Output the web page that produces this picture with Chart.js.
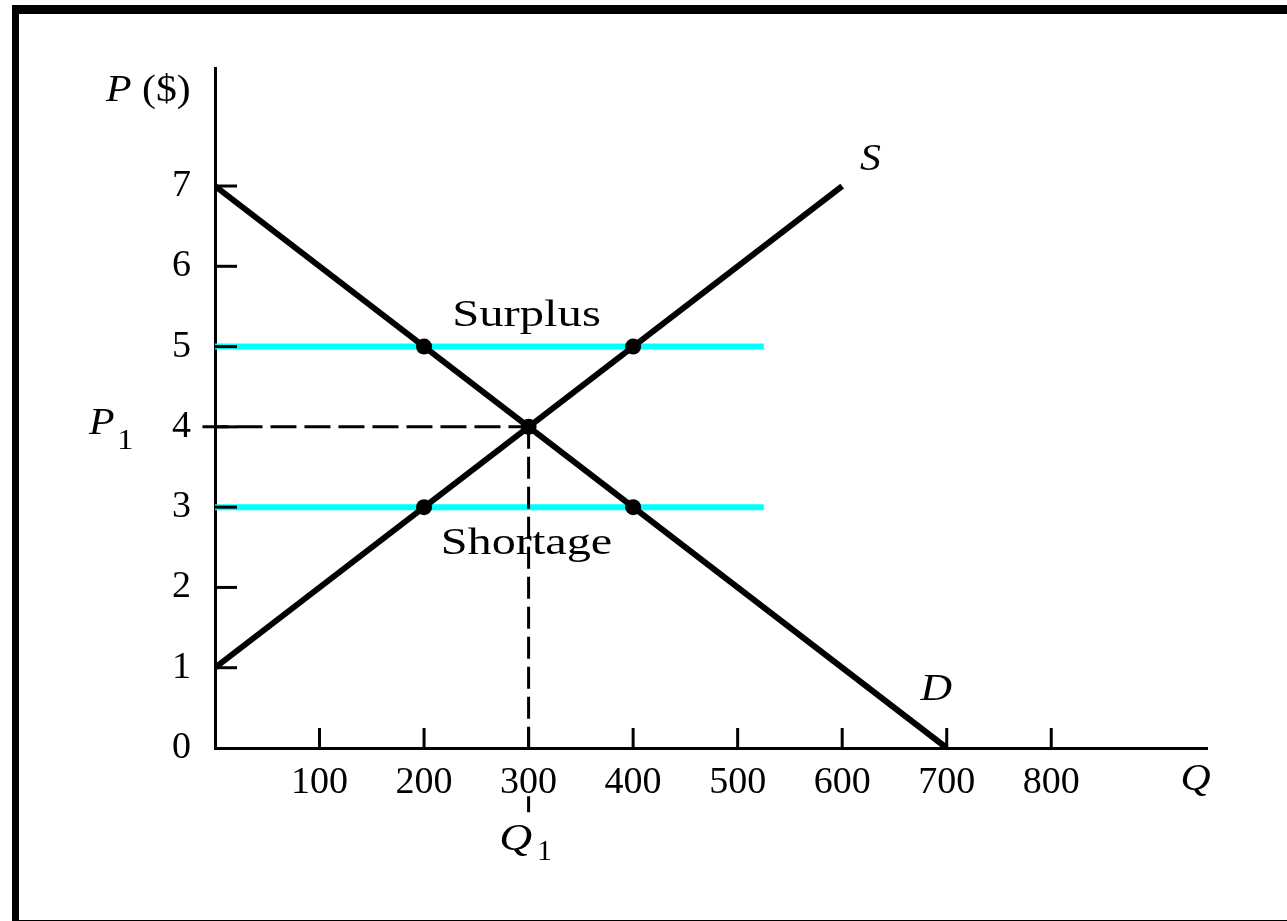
<!DOCTYPE html>
<html>
<head>
<meta charset="utf-8">
<script src="https://cdn.jsdelivr.net/npm/chart.js@4.4.1/dist/chart.umd.min.js"></script>
<style>
  html, body { margin: 0; padding: 0; background: #fff; overflow: hidden; }
  #marco { position: absolute; left: 12px; top: 5px; width: 1400px; height: 920px;
           border-left: 7px solid #000; border-top: 9px solid #000; border-bottom: 5px solid #000; box-sizing: border-box; }
  #wrap { position: absolute; left: 0; top: 0; width: 1287px; height: 921px; }
</style>
</head>
<body>
<div id="marco"></div>
<div id="wrap"><canvas id="grafico" width="1287" height="921"></canvas></div>
<script>
// datos de la grafica (oferta y demanda)
const cantidadTicks = [100, 200, 300, 400, 500, 600, 700, 800];
const precioTicks = [0, 1, 2, 3, 4, 5, 6, 7];
const oferta = [{ x: 0, y: 1 }, { x: 600, y: 7 }];
const demanda = [{ x: 0, y: 7 }, { x: 700, y: 0 }];
const excedente = [{ x: 0, y: 5 }, { x: 525, y: 5 }];
const escasez = [{ x: 0, y: 3 }, { x: 525, y: 3 }];
const equilibrioH = [{ x: -12, y: 4 }, { x: 300, y: 4 }];
// linea vertical de Q1, con hueco donde va la etiqueta 300
const equilibrioV = [{ x: 300, y: 4 }, { x: 300, y: -0.1 }, { x: 300, y: null }, { x: 300, y: -0.6 }, { x: 300, y: -0.8 }];
const puntos = [{ x: 200, y: 5 }, { x: 400, y: 5 }, { x: 300, y: 4 }, { x: 200, y: 3 }, { x: 400, y: 3 }];

const FUENTE = '"Liberation Serif", "Times New Roman", serif';

// texto un poco estirado en horizontal, como en la imagen original
function textoAncho(ctx, txt, x, y, sx) {
  ctx.save();
  ctx.translate(x, y);
  ctx.scale(sx, 1);
  ctx.fillText(txt, 0, 0);
  ctx.restore();
}

// ticks hacia adentro y etiquetas del dibujo
const etiquetas = {
  id: 'etiquetas',
  afterDraw(chart) {
    const { ctx, scales: { x, y } } = chart;
    ctx.save();
    ctx.strokeStyle = '#000';
    ctx.lineWidth = 3;
    cantidadTicks.forEach(v => {
      const px = x.getPixelForValue(v);
      ctx.beginPath();
      ctx.moveTo(px, y.bottom);
      ctx.lineTo(px, y.bottom - 20);
      ctx.stroke();
    });
    precioTicks.forEach(v => {
      if (v === 0) return;
      const py = y.getPixelForValue(v);
      ctx.beginPath();
      ctx.moveTo(x.left, py);
      ctx.lineTo(x.left + 22, py);
      ctx.stroke();
    });

    ctx.fillStyle = '#000';
    ctx.textBaseline = 'middle';
    const it = 'italic 38px ' + FUENTE;
    const rm = '38px ' + FUENTE;
    const sub = '30px ' + FUENTE;

    // P ($)
    ctx.textAlign = 'left';
    ctx.font = it;
    textoAncho(ctx, 'P', 106, y.getPixelForValue(8.18), 1.1);
    ctx.font = rm;
    textoAncho(ctx, '($)', 142, y.getPixelForValue(8.18), 1.1);

    // P1
    ctx.font = it;
    textoAncho(ctx, 'P', 89, y.getPixelForValue(4.04), 1.1);
    ctx.font = sub;
    textoAncho(ctx, '1', 117, y.getPixelForValue(3.82), 1.1);

    // S, D y Q
    ctx.font = it;
    ctx.textAlign = 'center';
    textoAncho(ctx, 'S', x.getPixelForValue(627), y.getPixelForValue(7.33), 1.1);
    textoAncho(ctx, 'D', x.getPixelForValue(690), y.getPixelForValue(0.72), 1.15);
    textoAncho(ctx, 'Q', x.getPixelForValue(938), y.getPixelForValue(-0.4), 1.1);

    // Q1
    ctx.textAlign = 'left';
    textoAncho(ctx, 'Q', x.getPixelForValue(272), y.getPixelForValue(-1.14), 1.2);
    ctx.font = sub;
    textoAncho(ctx, '1', x.getPixelForValue(308), y.getPixelForValue(-1.3), 1.0);

    // Surplus / Shortage
    ctx.font = rm;
    ctx.textAlign = 'center';
    textoAncho(ctx, 'Surplus', x.getPixelForValue(298), y.getPixelForValue(5.38), 1.28);
    textoAncho(ctx, 'Shortage', x.getPixelForValue(298), y.getPixelForValue(2.54), 1.27);
    ctx.restore();
  }
};

const ctx = document.getElementById('grafico').getContext('2d');
new Chart(ctx, {
  type: 'scatter',
  data: {
    datasets: [
      { data: puntos, showLine: false, pointRadius: 8, pointBackgroundColor: '#000', pointBorderWidth: 0, order: 0 },
      { data: oferta, showLine: true, borderColor: '#000', borderWidth: 6, pointRadius: 0, order: 1 },
      { data: demanda, showLine: true, borderColor: '#000', borderWidth: 6, pointRadius: 0, order: 1 },
      { data: equilibrioH, showLine: true, borderColor: '#000', borderWidth: 3, borderDash: [26, 8], pointRadius: 0, clip: false, order: 2 },
      { data: equilibrioV, showLine: true, spanGaps: false, borderColor: '#000', borderWidth: 3, borderDash: [22, 8], pointRadius: 0, clip: false, order: 2 },
      { data: excedente, showLine: true, borderColor: '#00ffff', borderWidth: 6, pointRadius: 0, order: 3 },
      { data: escasez, showLine: true, borderColor: '#00ffff', borderWidth: 6, pointRadius: 0, order: 3 }
    ]
  },
  options: {
    responsive: false,
    animation: false,
    layout: { padding: { left: 0, top: 68, right: 80, bottom: 0 } },
    plugins: { legend: { display: false }, tooltip: { enabled: false } },
    scales: {
      x: {
        type: 'linear',
        min: 0,
        max: 949,
        afterBuildTicks: s => { s.ticks = cantidadTicks.map(v => ({ value: v })); },
        afterFit: s => { s.height = 173; },
        grid: { display: false, drawTicks: false },
        border: { display: true, color: '#000', width: 3 },
        ticks: { color: '#000', font: { family: FUENTE, size: 38 }, padding: 12, maxRotation: 0, autoSkip: false }
      },
      y: {
        type: 'linear',
        min: 0,
        max: 8.47,
        afterBuildTicks: s => { s.ticks = precioTicks.map(v => ({ value: v })); },
        afterFit: s => { s.width = 215; },
        grid: { display: false, drawTicks: false },
        border: { display: true, color: '#000', width: 3 },
        ticks: { color: '#000', font: { family: FUENTE, size: 38 }, padding: 24, autoSkip: false }
      }
    }
  },
  plugins: [etiquetas]
});
</script>
</body>
</html>
